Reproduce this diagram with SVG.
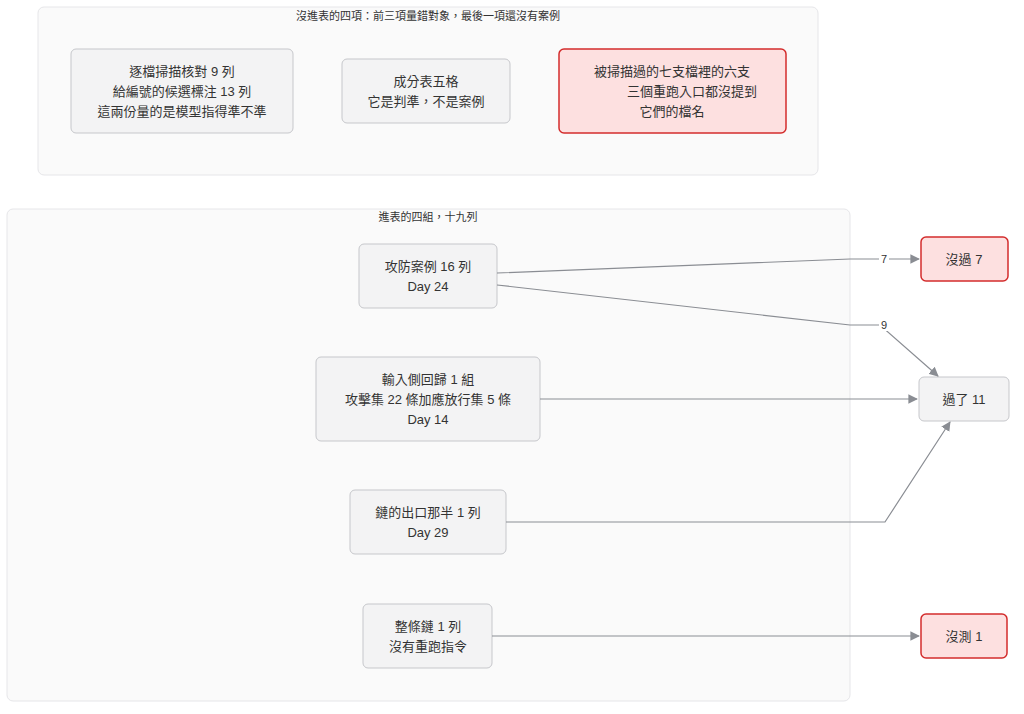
<svg xmlns="http://www.w3.org/2000/svg" width="1024" height="714" viewBox="0 0 1024 714">
<style>
text{font-family:"Liberation Sans","Noto Sans CJK TC",sans-serif;font-size:13px;fill:#333;text-anchor:middle}
.t{font-size:11px}
.cl{fill:#fafafa;stroke:#e6e6e9;stroke-width:1}
.n{fill:#f3f3f4;stroke:#c6c7cb;stroke-width:1}
.r{fill:#fde0e0;stroke:#d32c2c;stroke-width:1.5}
.e{fill:none;stroke:#8a8d93;stroke-width:1.2}
.lb{font-size:11px}
</style>
<defs><marker id="a" viewBox="0 0 10 10" refX="9" refY="5" markerWidth="8" markerHeight="8" orient="auto"><path d="M0,0L10,5L0,10z" fill="#8a8d93"/></marker></defs>
<g id="cluster-top"><rect class="cl" x="38" y="7" width="780" height="168" rx="6"/><text class="t" x="428" y="20">沒進表的四項：前三項量錯對象，最後一項還沒有案例</text></g>
<g id="cluster-bottom"><rect class="cl" x="7" y="209" width="843" height="492" rx="6"/><text class="t" x="428" y="221">進表的四組，十九列</text></g>
<g id="nA"><rect class="n" x="71" y="49" width="222" height="84" rx="5"/><text x="182" y="76">逐檔掃描核對 9 列</text><text x="182" y="96">給編號的候選標注 13 列</text><text x="182" y="116">這兩份量的是模型指得準不準</text></g>
<g id="nB"><rect class="n" x="342" y="59" width="168" height="64" rx="5"/><text x="426" y="86">成分表五格</text><text x="426" y="106">它是判準，不是案例</text></g>
<g id="nC"><rect class="r" x="559" y="49" width="227" height="84" rx="5"/><text x="672" y="76">被掃描過的七支檔裡的六支</text><text x="692" y="96">三個重跑入口都沒提到</text><text x="672" y="116">它們的檔名</text></g>
<g id="n1"><rect class="n" x="359" y="244" width="138" height="64" rx="5"/><text x="428" y="271">攻防案例 16 列</text><text x="428" y="291">Day 24</text></g>
<g id="n2"><rect class="n" x="316" y="357" width="224" height="84" rx="5"/><text x="428" y="384">輸入側回歸 1 組</text><text x="428" y="404">攻擊集 22 條加應放行集 5 條</text><text x="428" y="424">Day 14</text></g>
<g id="n3"><rect class="n" x="350" y="490" width="156" height="64" rx="5"/><text x="428" y="517">鏈的出口那半 1 列</text><text x="428" y="537">Day 29</text></g>
<g id="n4"><rect class="n" x="363" y="604" width="129" height="64" rx="5"/><text x="428" y="631">整條鏈 1 列</text><text x="428" y="651">沒有重跑指令</text></g>
<g id="r1"><rect class="r" x="921" y="237" width="87" height="44" rx="5"/><text x="964" y="264">沒過 7</text></g>
<g id="r2"><rect class="n" x="919" y="377" width="90" height="44" rx="5"/><text x="964" y="404">過了 11</text></g>
<g id="r3"><rect class="r" x="921" y="614" width="86" height="44" rx="5"/><text x="964" y="641">沒測 1</text></g>
<g id="edges">
<path class="e" d="M497,273 L850,259 L919,259" marker-end="url(#a)"/>
<path class="e" d="M497,285 L850,325 L880,325 L938,376" marker-end="url(#a)"/>
<path class="e" d="M540,399 L917,399" marker-end="url(#a)"/>
<path class="e" d="M506,522 L885,522 L950,422" marker-end="url(#a)"/>
<path class="e" d="M492,636 L919,636" marker-end="url(#a)"/>
<rect x="879" y="252" width="10" height="13" fill="#fff"/><text class="lb" x="884" y="263">7</text>
<rect x="879" y="318" width="10" height="13" fill="#fff"/><text class="lb" x="884" y="329">9</text>
</g>
</svg>
